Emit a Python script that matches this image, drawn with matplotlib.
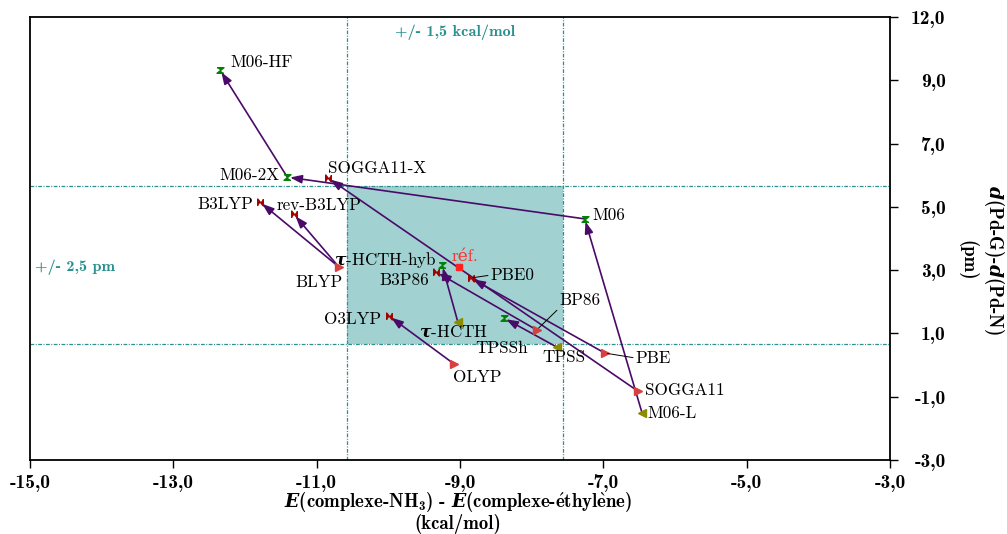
import numpy as np
import matplotlib
matplotlib.use('Agg')
import matplotlib.pyplot as plt

plt.rcParams['font.family'] = ['cmr10', 'DejaVu Serif']
plt.rcParams['axes.unicode_minus'] = False
plt.rcParams['mathtext.fontset'] = 'custom'
plt.rcParams['mathtext.it'] = 'DejaVu Serif:italic:bold'
plt.rcParams['mathtext.rm'] = 'cmb10'
plt.rcParams['mathtext.bf'] = 'cmb10'

# functionals: energy difference (kcal/mol) and distance difference (pm)
names = ['M06-HF', 'M06-2X', 'SOGGA11-X', 'B3LYP', 'rev-B3LYP', 'BLYP',
         'τ-HCTH-hyb', 'B3P86', 'PBE0', 'O3LYP', 'τ-HCTH', 'OLYP',
         'TPSSh', 'TPSS', 'BP86', 'PBE', 'SOGGA11', 'M06-L', 'M06']
d_energy = [-12.35, -11.41, -10.84, -11.79, -11.32, -10.69,
            -9.25, -9.33, -8.85, -9.99, -9.03, -9.08,
            -8.39, -7.65, -7.93, -6.98, -6.52, -6.46, -7.26]
d_dist = [9.33, 5.94, 5.91, 5.15, 4.77, 3.10,
          3.16, 2.94, 2.75, 1.55, 1.36, 0.03,
          1.49, 0.57, 1.11, 0.38, -0.82, -1.51, 4.62]
family = ['hybmeta', 'hybmeta', 'hyb', 'hyb', 'hyb', 'gga',
          'hybmeta', 'hyb', 'hyb', 'hyb', 'meta', 'gga',
          'hybmeta', 'meta', 'gga', 'gga', 'gga', 'meta', 'hybmeta']

# pure functional -> its hybrid
arrows = [('M06-2X', 'M06-HF'), ('M06', 'M06-2X'), ('SOGGA11', 'SOGGA11-X'),
          ('BLYP', 'B3LYP'), ('BLYP', 'rev-B3LYP'), ('M06-L', 'M06'),
          ('OLYP', 'O3LYP'), ('τ-HCTH', 'τ-HCTH-hyb'), ('BP86', 'B3P86'),
          ('PBE', 'PBE0'), ('TPSS', 'TPSSh')]

ref = (-9.02, 3.10)
box_x = (-10.58, -7.56)
box_y = (0.66, 5.66)

xticks = [-15, -13, -11, -9, -7, -5, -3]
xtick_labels = ['-15,0', '-13,0', '-11,0', '-9,0', '-7,0', '-5,0', '-3,0']
yticks = [-3, -1, 1, 3, 5, 7, 9, 11]
ytick_labels = ['-3,0', '-1,0', '1,0', '3,0', '5,0', '7,0', '9,0', '12,0']

# label placement: (ha, dx, dy) in pixels, leader line or not
label_pos = {
    'M06-HF': ('left', 10, 7, False), 'M06-2X': ('right', -8, 2, False),
    'SOGGA11-X': ('left', 0, 10, False), 'B3LYP': ('right', -7, -2, False),
    'rev-B3LYP': ('left', -17, 9, False), 'BLYP': ('right', 4, -15, False),
    'τ-HCTH-hyb': ('right', -6, 5, False), 'B3P86': ('right', -7, -8, False),
    'PBE0': ('left', 20, 3, True), 'O3LYP': ('right', -8, -3, False),
    'τ-HCTH': ('center', -4, -10, False), 'OLYP': ('left', -1, -13, False),
    'TPSSh': ('center', -2, -30, False), 'TPSS': ('center', 7, -10, False),
    'BP86': ('left', 23, 30, True), 'PBE': ('left', 31, -5, True),
    'SOGGA11': ('left', 7, 1, False), 'M06-L': ('left', 5, 0, False),
    'M06': ('left', 8, 4, False),
}

hourglass = [(-1, 0.8), (1, 0.8), (-1, -0.8), (1, -0.8)]
bowtie = [(-0.8, -1), (-0.8, 1), (0.8, -1), (0.8, 1)]
styles = {
    'hybmeta': dict(marker=hourglass, color='#008000', ms=5),
    'hyb': dict(marker=bowtie, color='#a00000', ms=5),
    'gga': dict(marker='>', color='#d84040', ms=5.5),
    'meta': dict(marker='<', color='#8c8c00', ms=5.5),
}
teal = '#2a9090'
purple = '#4a0a68'

fig = plt.figure(figsize=(10.07, 5.34), dpi=100)
ax = fig.add_axes([30 / 1007, 74 / 534, 860 / 1007, 443 / 534])
ax.set_xlim(-15, -3)
ax.set_ylim(-3, 11)

ax.fill_between(box_x, box_y[0], box_y[1], color='#a1d1d1', lw=0, zorder=0)
dash = (0, (3, 1.2, 0.8, 1.2))
for xv in box_x:
    ax.axvline(xv, color=teal, lw=0.9, ls=dash, zorder=1)
for yv in box_y:
    ax.axhline(yv, color=teal, lw=0.9, ls=dash, zorder=1)

pos = {n: (x, y) for n, x, y in zip(names, d_energy, d_dist)}
for a, b in arrows:
    ax.annotate('', xy=pos[b], xytext=pos[a],
                arrowprops=dict(arrowstyle='-|>,head_length=0.7,head_width=0.25',
                                color=purple, lw=1.2, shrinkA=0, shrinkB=2),
                zorder=3)

for n, x, y, f in zip(names, d_energy, d_dist, family):
    st = styles[f]
    ax.plot(x, y, ls='none', marker=st['marker'], color=st['color'],
            ms=st['ms'], mec=st['color'], zorder=4)
    ha, dx, dy, leader = label_pos[n]
    txt = n.replace('τ', r'$\tau$')
    props = None
    if leader:
        props = dict(arrowstyle='-', color='black', lw=0.7, shrinkA=0, shrinkB=2,
                     relpos=(0, 0) if n == 'BP86' else (0, 0.5))
    ax.annotate(txt, xy=(x, y), xytext=(dx, dy), textcoords='offset pixels',
                ha=ha, va='center', fontsize=12.3, arrowprops=props, zorder=5)

ax.plot(*ref, ls='none', marker='s', color='#ff2020', ms=5, zorder=4)
ax.annotate('réf.', xy=ref, xytext=(-7, 11), textcoords='offset pixels',
            ha='left', va='center', fontsize=12.3, color='#ff3030', zorder=5)

bx = (box_x[0] + box_x[1]) / 2
by = (box_y[0] + box_y[1]) / 2
ax.text(bx, 0.966, '+/- 1,5 kcal/mol', transform=ax.get_xaxis_transform(),
        ha='center', va='center', color=teal, fontsize=11.7, family='cmb10')
ax.text(0.006, by - 0.06, '+/- 2,5 pm', transform=ax.get_yaxis_transform(),
        ha='left', va='center', color=teal, fontsize=11.7, family='cmb10')

ax.yaxis.tick_right()
ax.set_xticks(xticks)
ax.set_xticklabels(xtick_labels, family='cmb10', fontsize=14)
ax.set_yticks(yticks)
ax.set_yticklabels(ytick_labels, family='cmb10', fontsize=14, ha='right')
ax.tick_params(direction='out', length=6, width=1)
ax.tick_params(axis='x', pad=4)
ax.tick_params(axis='y', pad=34)
for s in ax.spines.values():
    s.set_linewidth(1.3)

fig.text(458 / 1007, 1 - 503 / 534,
         r'$E$(complexe-NH$_3$) - $E$(complexe-$\acute{\rm e}$thyl$\grave{\rm e}$ne)',
         ha='center', va='center', fontsize=13.5, family=['cmb10', 'DejaVu Serif'])
fig.text(458 / 1007, 1 - 524 / 534, '(kcal/mol)',
         ha='center', va='center', fontsize=13.5, family=['cmb10', 'DejaVu Serif'])
fig.text(982 / 1007, 1 - 260 / 534, '$d$(Pd-G)-$d$(Pd-N)\n(pm)',
         ha='center', va='center', ma='center', rotation=270, fontsize=13.5,
         family=['cmb10', 'DejaVu Serif'], linespacing=1.3)

fig.savefig('out.png', dpi=100)
